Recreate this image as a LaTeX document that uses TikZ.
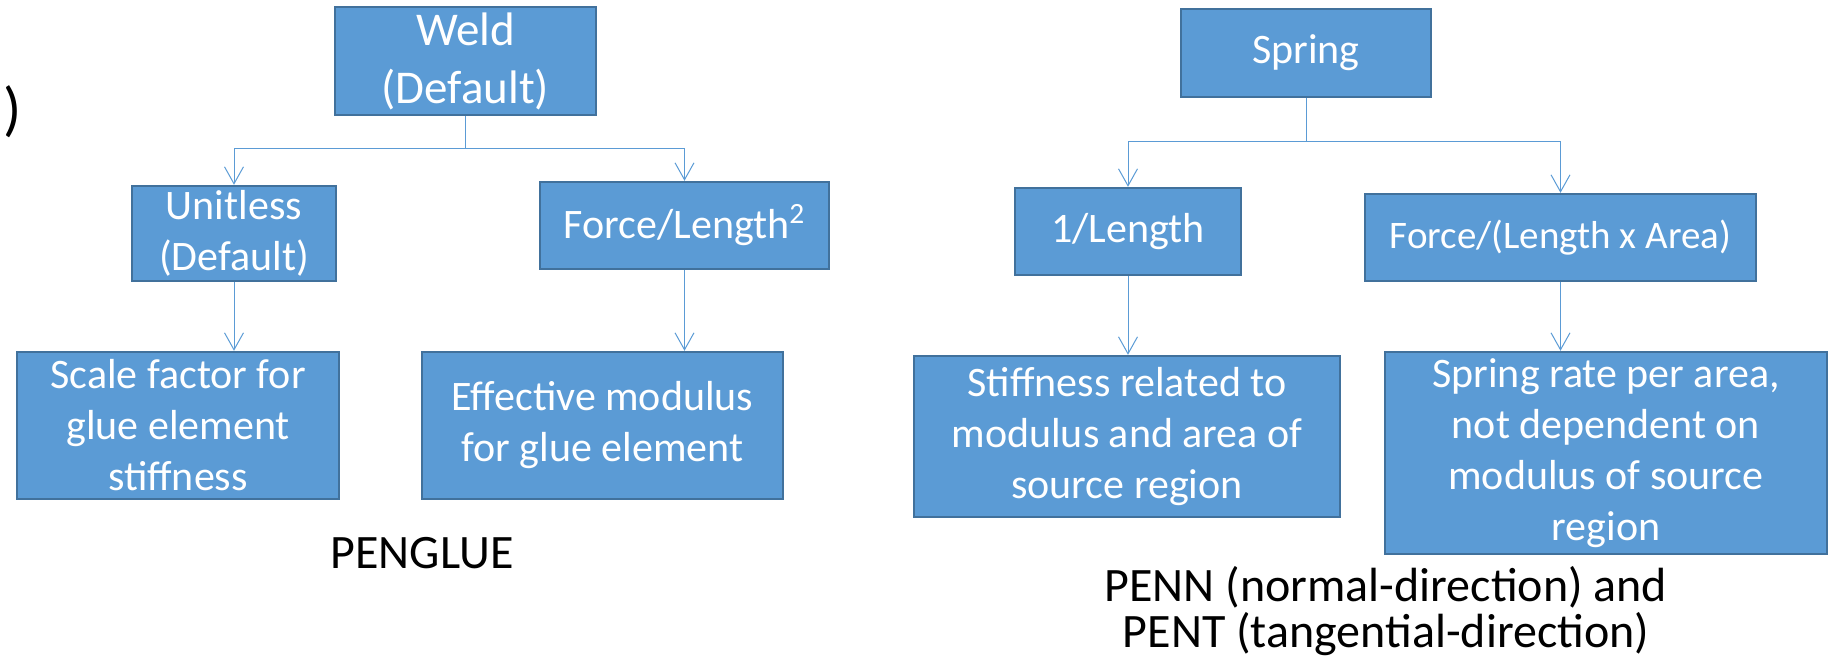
\documentclass[tikz,border=0pt]{standalone}
\usepackage{fontspec}
\setmainfont{Carlito}
\usetikzlibrary{arrows.meta}
\definecolor{boxblue}{HTML}{5B9BD5}
\definecolor{boxedge}{HTML}{41719C}

\begin{document}
\begin{tikzpicture}[x=0.5pt,y=-0.5pt,
    box/.style={draw=boxedge,fill=boxblue,line width=1.2pt,text=white,align=center,
      inner sep=0pt,font=\fontsize{21}{25.5}\selectfont},
    arr/.style={draw=boxblue,line width=0.5pt,-{Straight Barb[length=8.5pt,width=9.5pt]}},
    lbl/.style={inner sep=0pt,font=\fontsize{24}{23}\selectfont}]
  \useasboundingbox (0,0) rectangle (1837,667);

  % cut-off bracket at the left edge
  \node[inner sep=0pt,font=\fontsize{30}{30}\selectfont,anchor=base east] (brk) at (22,130) {)};

  % PENGLUE tree
  \node[box,minimum width=130.5pt,minimum height=54pt,font=\fontsize{23.5}{29}\selectfont] (weld) at (465.5,61) {Weld\\(Default)};
  \node[box,minimum width=102pt,minimum height=47.5pt] (unitless) at (234,233.5) {Unitless\\(Default)};
  \node[box,minimum width=144.5pt,minimum height=43.5pt] (forcelen) at (684.5,225.5) {Force/Length\textsuperscript{2}};
  \node[box,minimum width=161pt,minimum height=73.5pt] (scale) at (178,425.5) {Scale factor for\\glue element\\stiffness};
  \node[box,minimum width=180.5pt,minimum height=73.5pt] (effmod) at (602.5,425.5) {Effective modulus\\for glue element};
  \node[lbl,anchor=base] (penglue) at (422,569) {PENGLUE};

  \coordinate (wj) at (465.5,149);
  \draw[arr] (weld.south) -- (wj) -| (unitless.north);
  \draw[arr] (wj) -| (forcelen.north);
  \draw[arr] (unitless.south) -- (unitless.south |- scale.north);
  \draw[arr] (forcelen.south) -- (forcelen.south |- effmod.north);

  % PENN / PENT tree
  \node[box,minimum width=125pt,minimum height=44pt] (spring) at (1306,53) {Spring};
  \node[box,minimum width=113pt,minimum height=43.5pt] (invlen) at (1128,231.5) {1/Length};
  \node[box,minimum width=195.5pt,minimum height=43.5pt,font=\fontsize{19.5}{22}\selectfont] (forcearea) at (1560.5,237.5) {Force/(Length x Area)};
  \node[box,minimum width=213pt,minimum height=80.5pt] (stiff) at (1127,436.5) {Stiffness related to\\modulus and area of\\source region};
  \node[box,minimum width=221pt,minimum height=101pt] (rate) at (1606,453) {Spring rate per area,\\not dependent on\\modulus of source\\region};
  \node[lbl,anchor=base] (penn) at (1386,602) {PENN (normal-direction) and};
  \node[lbl,anchor=base] (pent) at (1386,648) {PENT (tangential-direction)};

  \coordinate (sj) at (1306,142);
  \draw[arr] (spring.south) -- (sj) -| (invlen.north);
  \draw[arr] (sj) -| (forcearea.north);
  \draw[arr] (invlen.south) -- (invlen.south |- stiff.north);
  \draw[arr] (forcearea.south) -- (forcearea.south |- rate.north);
\end{tikzpicture}
\end{document}
